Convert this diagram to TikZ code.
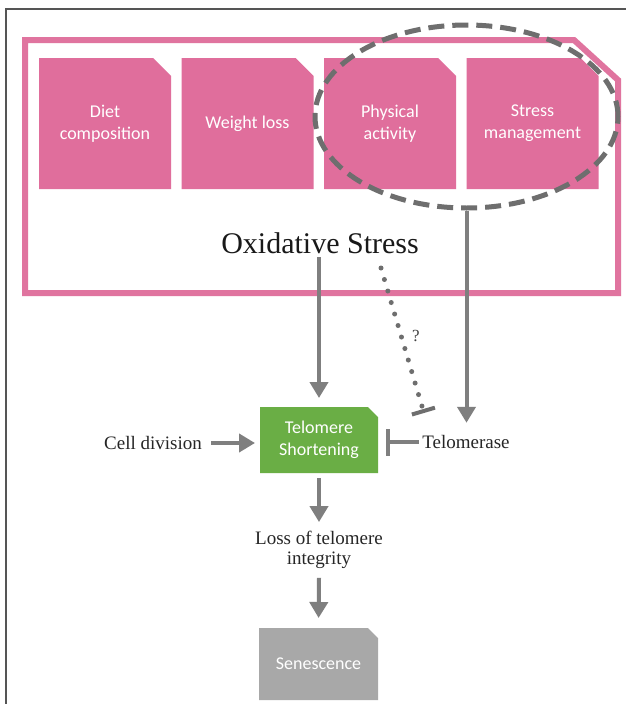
\documentclass[tikz,border=0pt]{standalone}
\usepackage{fontspec}
\setmainfont{Liberation Serif}
\newfontfamily\boxfont{Carlito}
\usetikzlibrary{arrows.meta,shapes.geometric}
\definecolor{pinkc}{HTML}{E06E9C}
\definecolor{pinkline}{HTML}{E0749F}
\definecolor{greenc}{HTML}{6AAE45}
\definecolor{grayc}{HTML}{A8A8A8}
\definecolor{arrowc}{HTML}{7F7F7F}
\definecolor{dashc}{HTML}{6E6E6E}
\definecolor{framec}{HTML}{555555}
\pgfdeclarelayer{bg}
\pgfsetlayers{bg,main}
\newcommand\chfill[3]{\begin{pgfonlayer}{bg}\fill[#2] (#1.south west) -- (#1.north west) -- ([xshift=-#3]#1.north east) -- ([yshift=-#3]#1.north east) -- (#1.south east) -- cycle;\end{pgfonlayer}}
\begin{document}
\begin{tikzpicture}[x=1pt,y=-1pt,
  boxtext/.style={rectangle, inner sep=0pt, outer sep=0pt, text=white, align=center, font=\boxfont\fontsize{18}{22}\selectfont},
  pinkbox/.style={boxtext, minimum width=132pt, minimum height=131pt},
  greenbox/.style={boxtext, minimum width=118pt, minimum height=66pt},
  graybox/.style={boxtext, minimum width=119pt, minimum height=72pt},
  lbl/.style={font=\fontsize{19}{20}\selectfont, text=black!85},
  arr/.style={draw=arrowc, line width=4pt, -{Triangle[width=18pt,length=16pt]}},
  inh/.style={draw=arrowc, line width=4pt, -{Bar[width=27pt,line width=4pt]}},
  dotline/.style={draw=dashc, line width=5pt, line cap=round, dash pattern=on 0pt off 12pt, -{Bar[width=24pt,line width=4pt]}}
]
\useasboundingbox (0,0) rectangle (626,704);
\begin{pgfonlayer}{bg}
\fill[white] (0,0) rectangle (626,704);
\end{pgfonlayer}
% outer frame
\draw[framec, line width=1.5pt] (6,704) -- (6,9) -- (626,9);
% pink frame
\draw[pinkline, line width=6pt, line join=miter] (25,40) -- (574,40) -- (618,80) -- (618,293) -- (25,293) -- cycle;
% boxes
\node[pinkbox] (b1) at (105,123.5) {Diet\\composition};
\chfill{b1}{pinkc}{18pt}
\node[pinkbox] (b2) at (247.5,123.5) {Weight loss};
\chfill{b2}{pinkc}{18pt}
\node[pinkbox] (b3) at (390,123.5) {Physical\\activity};
\chfill{b3}{pinkc}{18pt}
\node[pinkbox] (b4) at (532.5,123.5) {Stress\\management};
\chfill{b4}{pinkc}{18pt}
% dashed ellipse
\node[draw=dashc, line width=5pt, dash pattern=on 16pt off 8pt, ellipse, minimum width=303pt, minimum height=183pt, inner sep=0pt] (ell) at (466.5,116.5) {};
% oxidative stress
\node[font=\fontsize{30}{34}\selectfont, text=black!90] (ox) at (320,243) {Oxidative Stress};
% lower nodes
\node[greenbox] (tel) at (319,440) {Telomere\\Shortening};
\chfill{tel}{greenc}{10pt}
\node[lbl] (cell) at (153,443) {Cell division};
\node[lbl] (telase) at (466,442) {Telomerase};
\node[lbl, align=center, inner xsep=3pt, inner ysep=9pt] (loss) at (319,550) {Loss of telomere\\integrity};
\node[graybox] (sen) at (318.5,664) {Senescence};
\chfill{sen}{grayc}{10pt}
% connectors
\draw[arr, shorten >=9pt] (tel.north |- ox.south) -- (tel.north);
\draw[arr, shorten >=9pt] (ell.south) -- (ell.south |- telase.north);
\draw[arr, shorten <=6pt, shorten >=5pt] (cell.east) -- (cell.east -| tel.west);
\draw[inh, shorten >=8pt] (telase.west) -- (telase.west -| tel.east);
\draw[arr, shorten <=5pt] (tel.south) -- (loss.north);
\draw[arr, shorten >=10pt] (loss.south) -- (sen.north);
\coordinate (dq1) at (381,268);
\coordinate (dq2) at (424,413);
\draw[dotline] (dq1) -- (dq2);
\node[font=\fontsize{17}{18}\selectfont, text=black!75] (q) at (416,336) {?};
\end{tikzpicture}
\end{document}
